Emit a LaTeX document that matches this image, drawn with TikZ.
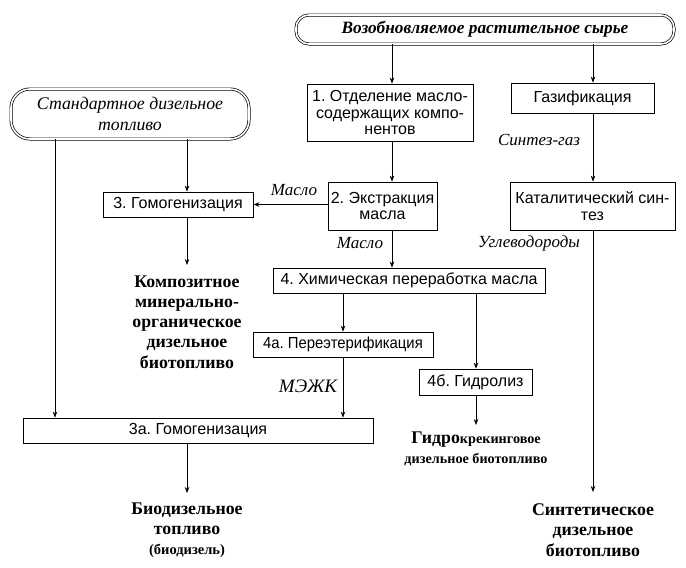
\documentclass[tikz,border=0pt]{standalone}
\usepackage{fontspec}
\usepackage{graphicx}
\setmainfont{Liberation Serif}
\setsansfont{Liberation Sans}
\usetikzlibrary{arrows.meta}
\begin{document}
\frenchspacing
\begin{tikzpicture}[x=1pt,y=-1pt,
  box/.style={draw, line width=0.8pt, font=\sffamily\fontsize{16}{16.5}\selectfont, align=center, inner sep=0pt},
  rbox/.style={draw, double, double distance=1.6pt, line width=0.7pt, align=center, inner sep=0pt},
  arr/.style={-{Stealth[length=6pt,width=4.5pt]}, line width=0.7pt},
  lab/.style={font=\itshape\fontsize{17}{18}\selectfont, inner sep=0pt},
  res/.style={font=\bfseries\fontsize{17.8}{20.2}\selectfont, align=center, inner sep=0pt}]
\useasboundingbox (0,0) rectangle (686,568);

% rounded source boxes
\node[rbox, rounded corners=13pt, minimum width=378pt, minimum height=29pt,
  font=\bfseries\itshape\fontsize{17.3}{18}\selectfont] (top) at (485,29.5) {Возобновляемое растительное сырье};
\node[rbox, rounded corners=19pt, minimum width=238pt, minimum height=50pt,
  font=\itshape\fontsize{17.8}{21}\selectfont] (std) at (130,114) {Стандартное дизельное\\топливо};

% process boxes
\node[box, minimum width=166pt, minimum height=57pt] (b1) at (390,112.5) {1. Отделение масло-\\содержащих компо-\\нентов};
\node[box, minimum width=143pt, minimum height=30pt] (gas) at (582.5,98) {Газификация};
\node[box, minimum width=109pt, minimum height=48pt] (b2) at (382.5,206) {2. Экстракция\\масла};
\node[box, minimum width=165pt, minimum height=48pt] (cat) at (592.5,206) {Каталитический син-\\тез};
\node[box, minimum width=150pt, minimum height=25pt] (b3) at (178,204.5) {3. Гомогенизация};
\node[box, minimum width=272pt, minimum height=25pt] (b4) at (409,280.5) {4. Химическая переработка масла};
\node[box, minimum width=180pt, minimum height=25pt] (b4a) at (343,344.5) {\scalebox{0.93}[1]{4а. Переэтерификация}};
\node[box, minimum width=113pt, minimum height=26pt] (b4b) at (475.5,382) {4б. Гидролиз};
\node[box, minimum width=350pt, minimum height=25pt] (b3a) at (198,430.5) {3а. Гомогенизация};

% result texts
\node[res] (r1) at (187,322) {Композитное\\минерально-\\органическое\\дизельное\\биотопливо};
\node[res] (r2) at (187,530) {Биодизельное\\топливо\\{\fontsize{14.5}{20.2}\selectfont(биодизель)}};
\node[res] (r3) at (476,449) {Гидро{\fontsize{14.2}{18}\selectfont крекинговое}\\{\fontsize{14.2}{18}\selectfont дизельное биотопливо}};
\node[res] (r4) at (593,530) {Синтетическое\\дизельное\\биотопливо};

% labels
\node[lab] (l1) at (294,190) {Масло};
\node[lab] (l2) at (360,243) {Масло};
\node[lab] (l3) at (539,140) {Синтез-газ};
\node[lab] (l4) at (529,243) {Углеводороды};
\node[lab, font=\itshape\fontsize{19}{20}\selectfont] (l5) at (308,386) {МЭЖК};

% column coordinates
\coordinate (xa) at (55,0);
\coordinate (xb) at (187,0);
\coordinate (xc) at (343,0);
\coordinate (xd) at (392,0);
\coordinate (xe) at (476,0);
\coordinate (xf) at (593,0);
\coordinate (e1) at (187,265);
\coordinate (e2) at (187,493);
\coordinate (e3) at (476,425);
\coordinate (e4) at (593,492);

% connectors
\draw[arr] (top.south -| xd) -- (b1.north -| xd);
\draw[arr] (top.south -| xf) -- (gas.north -| xf);
\draw[arr] (b1.south -| xd) -- (b2.north -| xd);
\draw[arr] (gas.south -| xf) -- (cat.north -| xf);
\draw[arr] (b2.west |- b3.east) -- (b3.east);
\draw[arr] (std.south -| xb) -- (b3.north -| xb);
\draw[arr] (std.south -| xa) -- (b3a.north -| xa);
\draw[arr] (b3.south -| xb) -- (e1);
\draw[arr] (b2.south -| xd) -- (b4.north -| xd);
\draw[arr] (cat.south -| xf) -- (e4);
\draw[arr] (b4.south -| xc) -- (b4a.north -| xc);
\draw[arr] (b4.south -| xe) -- (b4b.north -| xe);
\draw[arr] (b4a.south -| xc) -- (b3a.north -| xc);
\draw[arr] (b3a.south -| xb) -- (e2);
\draw[arr] (b4b.south -| xe) -- (e3);
\end{tikzpicture}
\end{document}
